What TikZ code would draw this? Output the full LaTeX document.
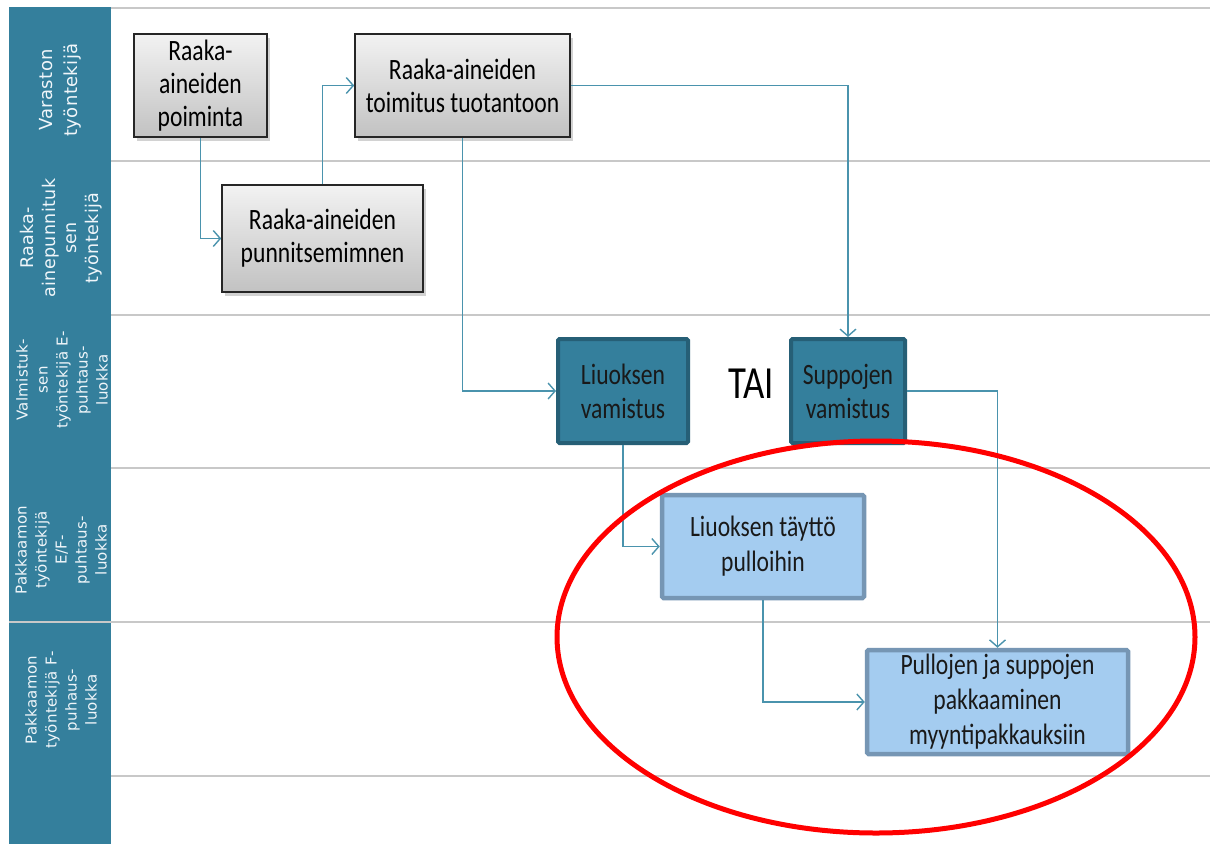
\documentclass[tikz,border=0pt]{standalone}
\usepackage{fontspec}
\setmainfont{Carlito}
\newfontfamily\boxfont[FakeStretch=0.8]{Carlito}
\newfontfamily\lanefont[LetterSpace=2]{DejaVu Sans}
\usetikzlibrary{arrows.meta,shadows,calc}
\definecolor{laneteal}{RGB}{52,127,156}
\definecolor{tealbox}{RGB}{52,127,156}
\definecolor{tealedge}{RGB}{38,95,118}
\definecolor{lightbox}{RGB}{164,204,240}
\definecolor{lightedge}{RGB}{118,150,180}
\definecolor{connc}{RGB}{74,147,173}
\definecolor{gridc}{RGB}{200,200,200}
\definecolor{lanetext}{RGB}{240,246,250}
\tikzset{
  graybox/.style={draw=black!85, line width=1.6pt, top color=black!5, bottom color=black!24,
    drop shadow={shadow xshift=3pt, shadow yshift=-4pt, opacity=0.35},
    align=center, font=\boxfont\fontsize{29.5}{33}\selectfont, inner sep=2pt},
  tealstep/.style={draw=tealedge, line width=4pt, fill=tealbox, rounded corners=1.5pt,
    align=center, font=\boxfont\fontsize{29.5}{34}\selectfont, text=black!90},
  lightstep/.style={draw=lightedge, line width=4.5pt, fill=lightbox, rounded corners=1.5pt,
    align=center, font=\boxfont\fontsize{29.5}{35}\selectfont, text=black!90},
  conn/.style={draw=connc, line width=1.4pt, -{Straight Barb[length=7pt,width=16pt,line width=1.4pt]}},
  gridline/.style={draw=gridc, line width=1.8pt},
  lanelabel/.style={rotate=90, text=lanetext, align=center, inner sep=0pt}
}
\begin{document}
\begin{tikzpicture}[x=1pt,y=-1pt]
\useasboundingbox (0,0) rectangle (1210,844);
\fill[white] (0,0) rectangle (1210,844);
% lane column
\fill[laneteal] (9,7) rectangle (111,844);
% grid lines
\foreach \yy in {8,161,315,468,776} {\draw[gridline] (111,\yy) -- (1210,\yy);}
\draw[gridline] (9,622) -- (1210,622);
% lane labels
\node[lanelabel, font={\lanefont\fontsize{18}{25}\selectfont}] (l1) at (60,90) {Varaston\\työntekijä};
\node[lanelabel, font={\lanefont\fontsize{17.5}{21.5}\selectfont}] (l2) at (61,238) {Raaka-\\ainepunnituk\\sen\\työntekijä};
\node[lanelabel, font={\lanefont\fontsize{15}{20}\selectfont}] (l3) at (62,380) {Valmistuk-\\sen\\työntekijä E-\\puhtaus-\\luokka};
\node[lanelabel, font={\lanefont\fontsize{15}{20}\selectfont}] (l4) at (61,550) {Pakkaamon\\työntekijä\\E/F-\\puhtaus-\\luokka};
\node[lanelabel, font={\lanefont\fontsize{15}{20}\selectfont}] (l5) at (61,700) {Pakkaamon\\työntekijä F-\\puhaus-\\luokka};
% boxes
\node[graybox, minimum width=133pt, minimum height=103pt] (b1) at (200.5,85.5) {Raaka-\\aineiden\\poiminta};
\node[graybox, minimum width=201pt, minimum height=107pt] (b2) at (322.5,238.5) {Raaka-aineiden\\punnitsemimnen};
\node[graybox, minimum width=215pt, minimum height=103pt] (b3) at (462.5,85.5) {Raaka-aineiden\\toimitus tuotantoon};
\node[tealstep, minimum width=130pt, minimum height=104pt] (b4) at (623,391) {Liuoksen\\vamistus};
\node[tealstep, minimum width=114pt, minimum height=104pt] (b5) at (848,391) {Suppojen\\vamistus};
\node[lightstep, minimum width=202pt, minimum height=103pt] (b6) at (763,546.5) {Liuoksen täyttö\\pulloihin};
\node[lightstep, minimum width=261pt, minimum height=104pt] (b7) at (997.5,702) {Pullojen ja suppojen\\pakkaaminen\\myyntipakkauksiin};
\node[font=\boxfont\fontsize{46}{46}\selectfont, text=black] (tai) at (751,384) {TAI};
% connectors
\draw[conn] (b1.south) |- (b2.west);
\draw[conn] (b2.north) |- (b3.west);
\draw[conn] (b3.east) -| (b5.north);
\draw[conn] (b3.south) |- (b4.west);
\draw[conn] (b4.south) |- (b6.west);
\draw[conn] (b5.east) -| (b7.north);
\draw[conn] (b6.south) |- (b7.west);
% red ellipse
\draw[red, line width=5pt] (876,637) ellipse [x radius=319, y radius=196];
\end{tikzpicture}
\end{document}
